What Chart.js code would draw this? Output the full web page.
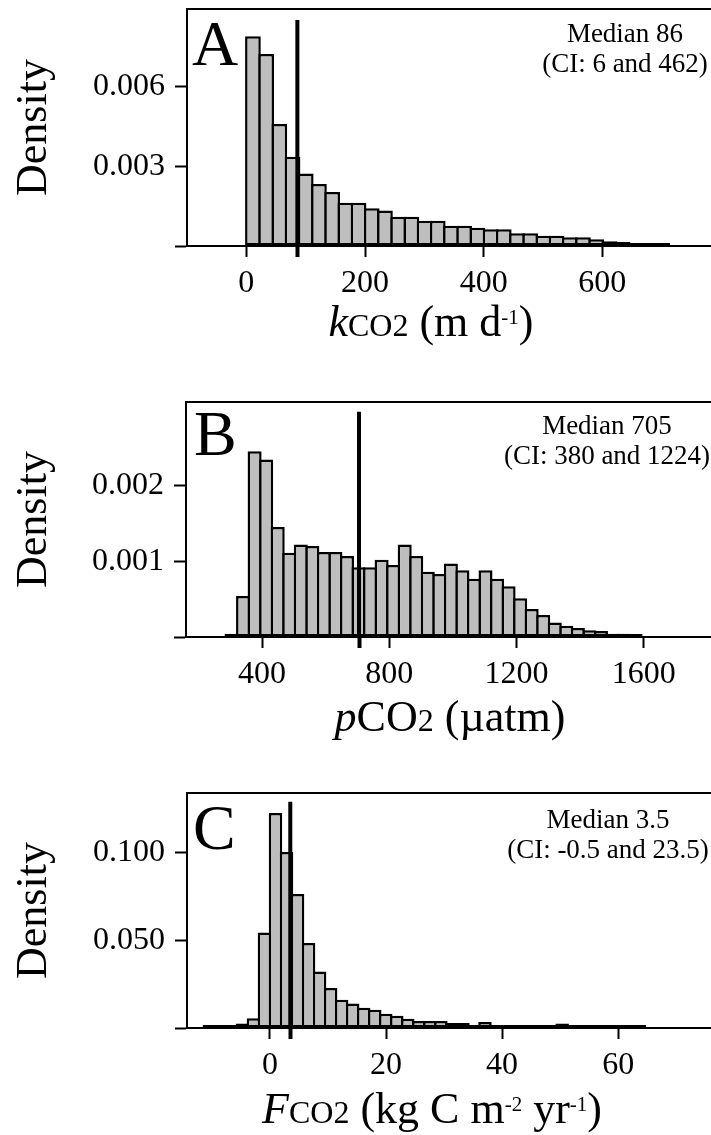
<!DOCTYPE html>
<html>
<head>
<meta charset="utf-8">
<script src="https://cdn.jsdelivr.net/npm/chart.js@4.4.1/dist/chart.umd.min.js"></script>
<style>
    html, body { margin: 0; padding: 0; background: #fff; overflow: hidden; width: 711px; height: 1135px; }
    canvas { position: absolute; left: 0; }
    .txt { position: absolute; font-family: "Liberation Serif", "Times New Roman", serif; color: #000; white-space: nowrap; }
    .letra { font-size: 64px; line-height: 64px; }
    .mediana { font-size: 27px; line-height: 30px; text-align: center; transform: translateX(-50%); }
    .titulo { font-size: 44px; line-height: 44px; transform: translateX(-50%); }
    .titulo .menor { font-size: 32px; line-height: 0; }
    .titulo sup { font-size: 21px; line-height: 0; vertical-align: 12px; }
</style>
</head>
<body>
<canvas id="graficoA" width="740" height="380" style="top:0px"></canvas>
<canvas id="graficoB" width="740" height="390" style="top:380px"></canvas>
<canvas id="graficoC" width="740" height="365" style="top:770px"></canvas>

<!-- letras dos paineis -->
<div class="txt letra" style="left:192px; top:12px;">A</div>
<div class="txt letra" style="left:194px; top:402px;">B</div>
<div class="txt letra" style="left:193px; top:796px;">C</div>

<!-- mediana e intervalo -->
<div class="txt mediana" style="left:625px; top:18px;">Median 86<br>(CI: 6 and 462)</div>
<div class="txt mediana" style="left:607px; top:410px;">Median 705<br>(CI: 380 and 1224)</div>
<div class="txt mediana" style="left:608px; top:804px;">Median 3.5<br>(CI: -0.5 and 23.5)</div>

<!-- titulos do eixo x -->
<div class="txt titulo" style="left:431px; top:300px;"><i>k</i><span class="menor">CO2</span> (m d<sup>-1</sup>)</div>
<div class="txt titulo" style="left:450px; top:695px;"><i>p</i>CO<span class="menor">2</span> (µatm)</div>
<div class="txt titulo" style="left:432px; top:1087px;"><i>F</i><span class="menor">CO2</span> (kg C m<sup>-2</sup> yr<sup>-1</sup>)</div>

<script>
// ---------- dados ----------

// Painel A - kCO2 (m d-1)
const quebrasA = [0, 22.25, 44.5, 66.75, 89, 111.25, 133.5, 155.75, 178, 200.25, 222.5, 244.75, 267, 289.25, 311.5, 333.75,
    356, 378.25, 400.5, 422.75, 445, 467.25, 489.5, 511.75, 534, 556.25, 578.5, 600.75, 623, 645.25, 667.5, 689.75, 712];
const densidadeA = [0.00789, 0.00722, 0.00459, 0.00336, 0.00273, 0.00233, 0.00203, 0.00163, 0.00163, 0.00142, 0.00133,
    0.00110, 0.00110, 0.00095, 0.00095, 0.00076, 0.00076, 0.00069, 0.00063, 0.00063, 0.00048, 0.00048, 0.00039, 0.00039,
    0.00033, 0.00033, 0.00025, 0.00018, 0.00015, 0.00010, 0.00010, 0.00010];
const medianaA = 86;
const topoMedianaA = 0.0085;
const ticksXA = [0, 200, 400, 600];
const ticksYA = [0, 0.003, 0.006];

// Painel B - pCO2 (uatm)
const quebrasB = [286, 322.3, 358.6, 394.9, 431.2, 467.5, 503.8, 540.1, 576.4, 612.7, 649, 685.3, 721.6, 757.9, 794.2,
    830.5, 866.8, 903.1, 939.4, 975.7, 1012, 1048.3, 1084.6, 1120.9, 1157.2, 1193.5, 1229.8, 1266.1, 1302.4, 1338.7, 1375,
    1411.3, 1447.6, 1483.9, 1520.2, 1556.5, 1592.8];
const densidadeB = [0.000044, 0.00054, 0.00245, 0.00234, 0.00145, 0.00111, 0.00122, 0.00120, 0.00112, 0.00112, 0.00107,
    0.00092, 0.00092, 0.00102, 0.00095, 0.00122, 0.00107, 0.00086, 0.00083, 0.00097, 0.00088, 0.00077, 0.00088, 0.00077,
    0.00067, 0.00051, 0.00037, 0.00029, 0.00019, 0.00015, 0.00012, 0.00009, 0.00008, 0.000044, 0.000044, 0.000022];
const medianaB = 705;
const topoMedianaB = 0.00297;
const ticksXB = [400, 800, 1200, 1600];
const ticksYB = [0, 0.001, 0.002];

// Painel C - FCO2 (kg C m-2 yr-1)
const quebrasC = [-11.4, -9.5, -7.6, -5.7, -3.8, -1.9, 0, 1.9, 3.8, 5.7, 7.6, 9.5, 11.4, 13.3, 15.2, 17.1, 19, 20.9,
    22.8, 24.7, 26.6, 28.5, 30.4, 32.3, 34.2, 36.1, 38, 39.9, 41.8, 43.7, 45.6, 47.5, 49.4, 51.3, 53.2, 55.1, 57, 58.9,
    60.8, 62.7, 64.6];
const densidadeC = [0.0005, 0.0005, 0.0005, 0.0025, 0.0055, 0.0544, 0.1224, 0.1002, 0.0763, 0.0484, 0.0322, 0.0228,
    0.0161, 0.0140, 0.0116, 0.0104, 0.0081, 0.0070, 0.0053, 0.0040, 0.0040, 0.0040, 0.0028, 0.0028, 0.0015, 0.0034,
    0.0015, 0.0011, 0.0011, 0.0011, 0.0011, 0.0004, 0.0026, 0.0004, 0.0004, 0.0004, 0.0004, 0.0004, 0.0004, 0.0004];
const medianaC = 3.5;
const topoMedianaC = 0.1288;
const ticksXC = [0, 20, 40, 60];
const ticksYC = [0, 0.05, 0.1];

// ---------- desenho ----------

const fonte = "'Liberation Serif', 'Times New Roman', serif";
const LARGURA_CANVAS = 740;
const BORDA_BARRA = 2.5;

// linha de cima e da direita da caixa do grafico
const molduraPlugin = {
    id: 'moldura',
    afterDraw(chart) {
        const ctx = chart.ctx;
        const area = chart.chartArea;
        ctx.save();
        ctx.strokeStyle = '#000';
        ctx.lineWidth = 2;
        ctx.beginPath();
        ctx.moveTo(area.left - 1, area.top);
        ctx.lineTo(area.right - 1, area.top);
        ctx.lineTo(area.right - 1, area.bottom);
        ctx.stroke();
        ctx.restore();
    }
};

// tira o espaco extra que o Chart.js reserva para metade dos rotulos
function semPadding(scale) {
    scale.paddingTop = 0;
    scale.paddingBottom = 0;
    scale.paddingLeft = 0;
    scale.paddingRight = 0;
}

function plotarHistograma(idCanvas, quebras, densidade, mediana, topoMediana, ticksX, ticksY, limites) {

    // centro de cada classe do histograma
    var pontos = [];
    for (var i = 0; i < densidade.length; i++) {
        pontos.push({ x: (quebras[i] + quebras[i + 1]) / 2, y: densidade[i] });
    }

    // barras se sobrepoem pela espessura da borda (borda unica entre vizinhas)
    var pxPorUnidade = (LARGURA_CANVAS - limites.larguraEixoY) / (limites.xMax - limites.xMin);
    var larguraClasse = (quebras[1] - quebras[0]) * pxPorUnidade;
    var percentual = (larguraClasse + BORDA_BARRA) / larguraClasse;

    var marcasX = ticksX.concat([mediana]).sort(function (a, b) { return a - b; });

    const configChart = {
        type: 'bar',
        data: {
            datasets: [
                {
                    type: 'line',
                    data: [{ x: mediana, y: 0 }, { x: mediana, y: topoMediana }],
                    borderColor: '#000',
                    borderWidth: 4,
                    borderCapStyle: 'butt',
                    pointRadius: 0,
                    order: 0
                },
                {
                    type: 'bar',
                    data: pontos,
                    backgroundColor: '#bebebe',
                    borderColor: '#000',
                    borderWidth: BORDA_BARRA,
                    borderSkipped: false,
                    minBarLength: 3,   // classes quase vazias aparecem como traco preto, igual na figura
                    barPercentage: percentual,
                    categoryPercentage: 1,
                    order: 1
                }
            ]
        },
        options: {
            responsive: false,
            animation: false,
            layout: { padding: { top: limites.topo, left: 0, right: 0, bottom: 0 } },
            plugins: { legend: { display: false }, tooltip: { enabled: false } },
            scales: {
                x: {
                    type: 'linear',
                    min: limites.xMin,
                    max: limites.xMax,
                    offset: false,
                    grid: {
                        drawOnChartArea: false,
                        offset: false,
                        tickLength: 11,
                        tickColor: '#000',
                        tickWidth: function (ctx) { return ctx.tick && ctx.tick.value === mediana ? 4 : 2; }
                    },
                    border: { display: true, color: '#000', width: 2 },
                    ticks: {
                        autoSkip: false,
                        maxRotation: 0,
                        padding: 7,
                        color: '#000',
                        font: { family: fonte, size: 32 },
                        callback: function (v) { return v === mediana ? '' : String(v); }
                    },
                    afterBuildTicks: function (scale) {
                        scale.ticks = marcasX.map(function (v) { return { value: v }; });
                    },
                    afterFit: function (scale) {
                        scale.height = limites.alturaEixoX;
                        semPadding(scale);
                    }
                },
                y: {
                    type: 'linear',
                    min: 0,
                    max: limites.yMax,
                    grid: { drawOnChartArea: false, tickLength: 12, tickColor: '#000', tickWidth: 2 },
                    border: { display: true, color: '#000', width: 2 },
                    ticks: {
                        padding: 10,
                        color: '#000',
                        font: { family: fonte, size: 32 },
                        callback: function (v) { return v === 0 ? '' : v.toFixed(3); }
                    },
                    title: {
                        display: true,
                        text: 'Density',
                        color: '#000',
                        font: { family: fonte, size: 44 },
                        padding: { top: 8, bottom: 0 }
                    },
                    afterBuildTicks: function (scale) {
                        scale.ticks = ticksY.map(function (v) { return { value: v }; });
                    },
                    afterFit: function (scale) {
                        scale.width = limites.larguraEixoY;
                        semPadding(scale);
                    }
                }
            }
        },
        plugins: [molduraPlugin]
    };

    return new Chart(document.getElementById(idCanvas), configChart);
}

plotarHistograma('graficoA', quebrasA, densidadeA, medianaA, topoMedianaA, ticksXA, ticksYA,
    { xMin: -100, xMax: 832, yMax: 0.00891, topo: 9, alturaEixoX: 134, larguraEixoY: 187 });

plotarHistograma('graficoB', quebrasB, densidadeB, medianaB, topoMedianaB, ticksXB, ticksYB,
    { xMin: 161, xMax: 1903, yMax: 0.0031, topo: 22, alturaEixoX: 133, larguraEixoY: 186 });

plotarHistograma('graficoC', quebrasC, densidadeC, medianaC, topoMedianaC, ticksXC, ticksYC,
    { xMin: -14.3, xMax: 81, yMax: 0.1338, topo: 23, alturaEixoX: 107, larguraEixoY: 187 });
</script>
</body>
</html>
